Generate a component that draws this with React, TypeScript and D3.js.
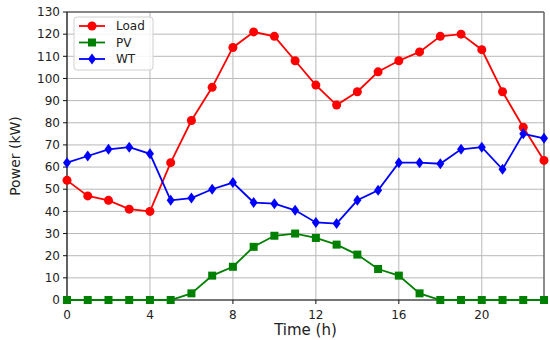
import React from "react";
import * as d3 from "d3";

const hours = d3.range(0, 24);
const loadValues = [54, 47, 45, 41, 40, 62, 81, 96, 114, 121, 119, 108, 97, 88, 94, 103, 108, 112, 119, 120, 113, 94, 78, 63];
const pvValues = [0, 0, 0, 0, 0, 0, 3, 11, 15, 24, 29, 30, 28, 25, 20.5, 14, 11, 3, 0, 0, 0, 0, 0, 0];
const wtValues = [62, 65, 68, 69, 66, 45, 46, 50, 53, 44, 43.5, 40.5, 35, 34.5, 45, 49.5, 62, 62, 61.5, 68, 69, 59, 75, 73];
const xTicks = [0, 4, 8, 12, 16, 20];
const yTicks = d3.range(0, 131, 10);

const W = 550;
const H = 340;
const margin = { top: 12, right: 6, bottom: 40, left: 67 };
const font = "DejaVu Sans, sans-serif";

const series = [
  { name: "Load", values: loadValues, color: "#ff0000", marker: "circle" },
  { name: "PV", values: pvValues, color: "#008000", marker: "square" },
  { name: "WT", values: wtValues, color: "#0000ff", marker: "diamond" },
];

const Marker = ({ type, x, y, color }) => {
  if (type === "circle") return <circle cx={x} cy={y} r={4.5} fill={color} />;
  if (type === "square") return <rect x={x - 4} y={y - 4} width={8} height={8} fill={color} />;
  return <path d={`M${x},${y - 5.5} L${x + 4},${y} L${x},${y + 5.5} L${x - 4},${y} Z`} fill={color} />;
};

export default function App() {
  const x = d3.scaleLinear().domain([0, 23]).range([margin.left, W - margin.right]);
  const y = d3.scaleLinear().domain([0, 130]).range([H - margin.bottom, margin.top]);
  const line = d3
    .line<number>()
    .x((_, i) => x(hours[i]))
    .y((d) => y(d));

  const [x0, x1] = x.range();
  const [y0, y1] = y.range();

  return (
    <svg
      width={W}
      height={H}
      style={{ position: "absolute", left: 0, top: 0, background: "white" }}
      fontFamily={font}
    >
      {/* grid */}
      {yTicks.map((t) => (
        <line key={"gy" + t} x1={x0} x2={x1} y1={y(t)} y2={y(t)} stroke="#b8b8b8" strokeWidth={1} />
      ))}
      {xTicks.map((t) => (
        <line key={"gx" + t} x1={x(t)} x2={x(t)} y1={y1} y2={y0} stroke="#b8b8b8" strokeWidth={1} />
      ))}

      {/* frame */}
      <line x1={x0} x2={x1} y1={y1} y2={y1} stroke="#333" strokeWidth={1.2} />
      <line x1={x1} x2={x1} y1={y1} y2={y0} stroke="#666" strokeWidth={1.5} />
      <line x1={x0} x2={x0} y1={y1} y2={y0} stroke="#111" strokeWidth={1.2} />
      <line x1={x0} x2={x1} y1={y0} y2={y0} stroke="#111" strokeWidth={1.2} />

      {/* ticks */}
      {yTicks.map((t) => (
        <g key={"ty" + t}>
          <line x1={x0 - 4} x2={x0} y1={y(t)} y2={y(t)} stroke="#111" />
          <text x={x0 - 7} y={y(t)} dy="0.35em" textAnchor="end" fontSize={12} fill="#222">
            {t}
          </text>
        </g>
      ))}
      {xTicks.map((t) => (
        <g key={"tx" + t}>
          <line x1={x(t)} x2={x(t)} y1={y0} y2={y0 + 4} stroke="#111" />
          <text x={x(t)} y={y0 + 19} textAnchor="middle" fontSize={12} fill="#222">
            {t}
          </text>
        </g>
      ))}

      <text x={x((0 + 23) / 2)} y={H - 5} textAnchor="middle" fontSize={15} fill="#222">
        Time (h)
      </text>
      <text
        transform={`translate(20, ${(y0 + y1) / 2}) rotate(-90)`}
        textAnchor="middle"
        fontSize={14}
        fill="#222"
      >
        Power (kW)
      </text>

      {/* series */}
      {series.map((s) => (
        <g key={s.name}>
          <path d={line(s.values)} fill="none" stroke={s.color} strokeWidth={1.8} />
          {s.values.map((v, i) => (
            <Marker key={i} type={s.marker} x={x(hours[i])} y={y(v)} color={s.color} />
          ))}
        </g>
      ))}

      {/* legend */}
      <rect x={74} y={17} width={79} height={53} rx={3} fill="white" fillOpacity={0.85} stroke="#d0d0d0" />
      {series.map((s, i) => {
        const ly = 26 + i * 16.5;
        return (
          <g key={"lg" + s.name}>
            <line x1={79} x2={105} y1={ly} y2={ly} stroke={s.color} strokeWidth={1.8} />
            <Marker type={s.marker} x={92} y={ly} color={s.color} />
            <text x={116} y={ly} dy="0.35em" fontSize={12} fill="#222">
              {s.name}
            </text>
          </g>
        );
      })}
    </svg>
  );
}
